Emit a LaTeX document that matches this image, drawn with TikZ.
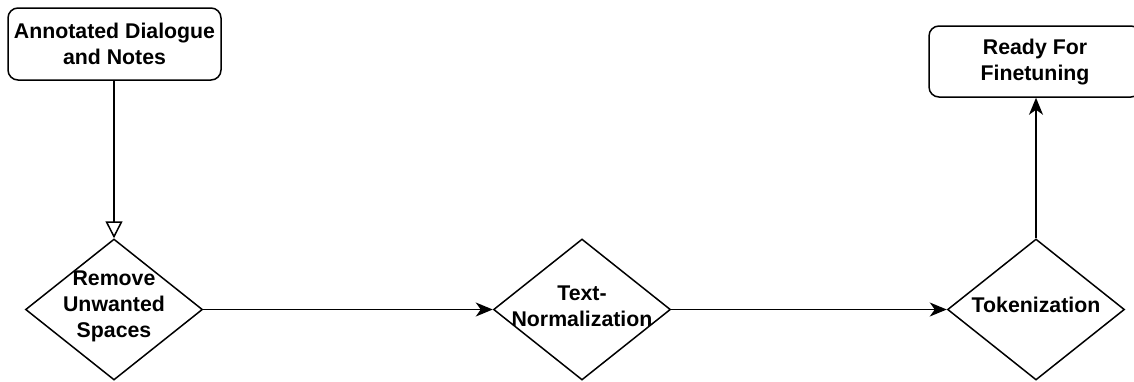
\documentclass[tikz,border=0pt]{standalone}
\usepackage{fontspec}
\setmainfont{Liberation Sans}
\usetikzlibrary{shapes.geometric,arrows.meta}
\begin{document}
\begin{tikzpicture}[x=1pt,y=-1pt,
  lbl/.style={font=\fontsize{21.3}{26}\selectfont\bfseries, align=center, inner sep=0pt},
  roundbox/.style={draw, line width=1.5pt, rounded corners=10pt, minimum width=213pt, minimum height=72pt, inner sep=0pt},
  dia/.style={draw, diamond, line width=1.5pt, minimum width=177pt, minimum height=141pt, inner sep=0pt},
  conn/.style={line width=1.5pt},
  fill arrow/.style={conn, -{Stealth[length=17pt, width=14pt, inset=5pt]}},
  open arrow/.style={conn, -{Triangle[open, length=17pt, width=17pt, line width=1.5pt]}}
]
\useasboundingbox (0,0) rectangle (1134,381);
\node[roundbox] (a) at (114.5,44) {};
\node[lbl] (at) at (114.5,44) {Annotated Dialogue\\and Notes};
\node[dia] (d1) at (114,309.5) {};
\node[lbl] (d1t) at (114,306) {Remove\\Unwanted\\Spaces};
\node[dia] (d2) at (582,309.5) {};
\node[lbl] (d2t) at (582,306) {Text-\\Normalization};
\node[dia] (d3) at (1036,309.5) {};
\node[lbl] (d3t) at (1036,305) {Tokenization};
\node[roundbox, minimum width=212pt, minimum height=71pt] (b) at (1035,61.5) {};
\node[lbl] (bt) at (1035,62) {Ready For\\Finetuning};
\draw[open arrow] (a.south -| d1.north) -- (d1.north);
\draw[fill arrow] (d1.east) -- (d2.west);
\draw[fill arrow] (d2.east) -- (d3.west);
\draw[fill arrow] (d3.north) -- (d3.north |- b.south);
\end{tikzpicture}
\end{document}
